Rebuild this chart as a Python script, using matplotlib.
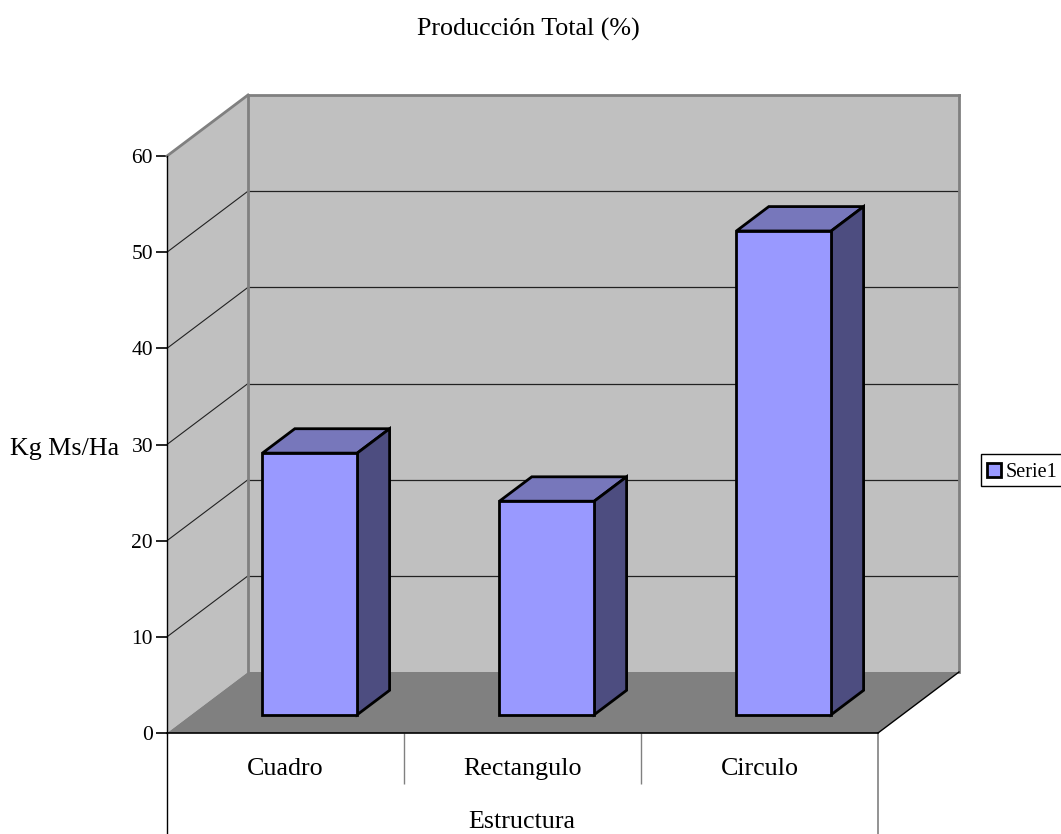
import matplotlib
matplotlib.use("Agg")
import matplotlib.pyplot as plt
from matplotlib.patches import Polygon, Patch, Rectangle

# =========================
# DATOS
# =========================
categorias = ["Cuadro", "Rectangulo", "Circulo"]
valores = [27.2, 22.2, 50.3]
ticks_y = [0, 10, 20, 30, 40, 50, 60]
serie = "Serie1"

# =========================
# CONFIGURACIÓN
# =========================
W, H = 1061, 834
x0, x1, y0, y1 = 167, 878, 733, 156   # plano frontal en pixeles
ancho_barra = 0.4
z_ini, z_fin = 0.3, 0.7

plt.rcParams["font.family"] = ["Liberation Serif", "DejaVu Serif"]
fig = plt.figure(figsize=(W / 100, H / 100), dpi=100)
ax = fig.add_axes([x0 / W, 1 - y0 / H, (x1 - x0) / W, (y0 - y1) / H])
ax.set_xlim(0, len(categorias))
ax.set_ylim(0, ticks_y[-1])
ax.patch.set_alpha(0)

# profundidad del "3D" en unidades de datos
dx = 81 / ((x1 - x0) / len(categorias))
dy = 61 / ((y0 - y1) / ticks_y[-1])
xmax, ymax = len(categorias), ticks_y[-1]


def p(x, y, z):
    return (x + z * dx, y + z * dy)


def cara(puntos, color, edge="none", lw=0, zorder=1):
    ax.add_patch(Polygon(puntos, closed=True, facecolor=color, edgecolor=edge, linewidth=lw,
                         joinstyle="miter", clip_on=False, zorder=zorder))


def linea(a, b, color, lw, zorder=2):
    ax.plot([a[0], b[0]], [a[1], b[1]], color=color, lw=lw, clip_on=False, zorder=zorder,
            solid_capstyle="projecting")


# paredes y piso
cara([p(0, 0, 1), p(xmax, 0, 1), p(xmax, ymax, 1), p(0, ymax, 1)], "#C0C0C0")
cara([p(0, 0, 0), p(0, 0, 1), p(0, ymax, 1), p(0, ymax, 0)], "#C0C0C0")
cara([p(0, 0, 0), p(xmax, 0, 0), p(xmax, 0, 1), p(0, 0, 1)], "#808080")

# lineas de division
for t in ticks_y[1:-1]:
    linea(p(0, t, 0), p(0, t, 1), "#222222", 0.8)
    linea(p(0, t, 1), p(xmax, t, 1), "#222222", 0.9)

# bordes grises de las paredes
linea(p(0, ymax, 0), p(0, ymax, 1), "#808080", 2)
linea(p(0, ymax, 1), p(xmax, ymax, 1), "#808080", 2)
linea(p(0, 0, 1), p(0, ymax, 1), "#808080", 2)
linea(p(xmax, 0, 1), p(xmax, ymax, 1), "#808080", 2)
linea(p(xmax, 0, 0), p(xmax, 0, 1), "black", 1)

# barras
for i, v in enumerate(valores):
    xa = i + 0.5 - ancho_barra / 2
    xb = i + 0.5 + ancho_barra / 2
    cara([p(xa, v, z_ini), p(xb, v, z_ini), p(xb, v, z_fin), p(xa, v, z_fin)],
         "#7777BB", "black", 2, zorder=3)
    cara([p(xb, 0, z_ini), p(xb, 0, z_fin), p(xb, v, z_fin), p(xb, v, z_ini)],
         "#4D4D80", "black", 2, zorder=3)
    cara([p(xa, 0, z_ini), p(xb, 0, z_ini), p(xb, v, z_ini), p(xa, v, z_ini)],
         "#9999FF", "black", 2, zorder=4)

# ejes
for lado in ["top", "right"]:
    ax.spines[lado].set_visible(False)
ax.spines["left"].set_linewidth(1)
ax.spines["bottom"].set_linewidth(1.2)

ax.set_yticks(ticks_y)
ax.tick_params(axis="y", length=8, width=1.2, labelsize=15.5, pad=2)
ax.yaxis.get_ticklines()[-2].set_color("#808080")

ax.set_xticks([i + 0.5 for i in range(len(categorias))])
ax.set_xticklabels(categorias, fontsize=18.7)
ax.tick_params(axis="x", which="major", length=0, pad=18)
ax.set_xticks(range(1, len(categorias)), minor=True)
ax.tick_params(axis="x", which="minor", length=36.7, width=1, color="#808080")

# lineas externas de la tabla de categorias
ax.vlines([0], -10.5, 0, color="black", lw=1, clip_on=False)
ax.vlines([xmax], -10.5, 0, color="#808080", lw=1.2, clip_on=False)

ax.set_ylabel("Kg Ms/Ha", fontsize=18.7, rotation=0, ha="center", va="center")
ax.yaxis.set_label_coords((65 - x0) / (x1 - x0), (y0 - 449) / (y0 - y1))
ax.set_xlabel("Estructura", fontsize=18.7, ha="center", va="center")
ax.xaxis.set_label_coords((522 - x0) / (x1 - x0), (y0 - 822) / (y0 - y1))
fig.text(528.5 / W, 1 - 29 / H, "Producción Total (%)", fontsize=18.7, ha="center", va="center")

# leyenda: marco aparte, se corta en el borde derecho como en el original
fig.add_artist(Rectangle((981 / W, 1 - 486 / H), 90 / W, 32 / H, transform=fig.transFigure,
                         facecolor="white", edgecolor="black", linewidth=1))
fig.legend(handles=[Patch(facecolor="#9999FF", edgecolor="black", linewidth=2, label=serie)],
           loc="upper left", bbox_to_anchor=(981 / W, 1 - 457 / H), fontsize=14.5,
           frameon=False, borderaxespad=0,
           borderpad=0.3, handlelength=0.7, handleheight=0.7, handletextpad=0.2)

fig.savefig("out.png", dpi=100)
